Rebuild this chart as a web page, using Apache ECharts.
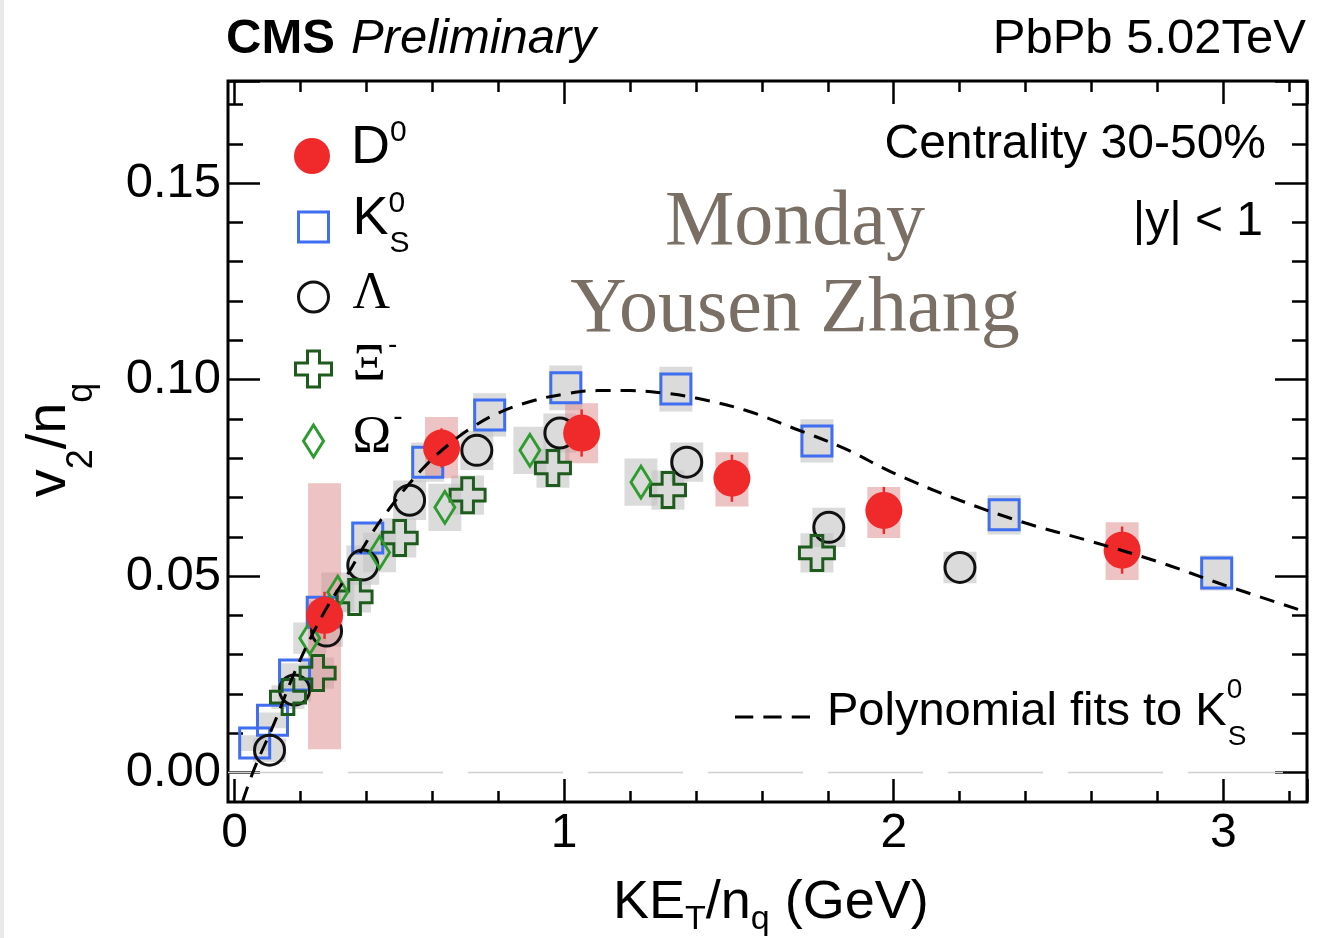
<!DOCTYPE html>
<html><head><meta charset="utf-8">
<script src="https://cdn.jsdelivr.net/npm/echarts@6/dist/echarts.min.js"></script>
<style>html,body{margin:0;padding:0;background:#fff}#c{width:1331px;height:938px}</style>
</head><body><div id="c"></div>
<script>
// ---------------- data ----------------
const xTickLabels = ['0', '1', '2', '3'];
const yTickLabels = ['0.00', '0.05', '0.10', '0.15'];

const d0X = [0.273, 0.628, 1.053, 1.509, 1.970, 2.693];
const d0Y = [0.0400, 0.0826, 0.0864, 0.0749, 0.0667, 0.0566];
const d0Stat = [0.0060, 0.0050, 0.0060, 0.0060, 0.0060, 0.0060];
const d0SysLo = [0.0059, 0.0749, 0.0787, 0.0677, 0.0597, 0.0490];
const d0SysHi = [0.0736, 0.0905, 0.0940, 0.0815, 0.0727, 0.0637];

const k0sX = [0.061, 0.115, 0.182, 0.266, 0.404, 0.586, 0.774, 1.005, 1.339, 1.767, 2.335, 2.980];
const k0sY = [0.0075, 0.0133, 0.0248, 0.0408, 0.0597, 0.0790, 0.0910, 0.0979, 0.0976, 0.0844, 0.0656, 0.0508];
const k0sSys = [0.0020, 0.0020, 0.0030, 0.0030, 0.0040, 0.0050, 0.0055, 0.0057, 0.0057, 0.0055, 0.0050, 0.0045];

const lamX = [0.106, 0.182, 0.279, 0.389, 0.531, 0.735, 0.987, 1.372, 1.803, 2.201];
const lamY = [0.0057, 0.0210, 0.0360, 0.0528, 0.0693, 0.0820, 0.0864, 0.0790, 0.0624, 0.0522];
const lamSys = [0.0030, 0.0030, 0.0040, 0.0050, 0.0050, 0.0050, 0.0050, 0.0050, 0.0050, 0.0040];

const xiX = [0.162, 0.252, 0.364, 0.501, 0.707, 0.966, 1.315, 1.767];
const xiY = [0.0192, 0.0253, 0.0447, 0.0597, 0.0706, 0.0775, 0.0719, 0.0559];
const xiSys = [0.0030, 0.0040, 0.0040, 0.0050, 0.0050, 0.0050, 0.0050, 0.0050];

const omX = [0.228, 0.313, 0.440, 0.638, 0.896, 1.233];
const omY = [0.0342, 0.0459, 0.0560, 0.0675, 0.0820, 0.0739];
const omSys = [0.0040, 0.0050, 0.0050, 0.0060, 0.0060, 0.0060];

const fitX = [0.025, 0.06, 0.12, 0.19, 0.27, 0.34, 0.41, 0.47, 0.53, 0.59, 0.65, 0.72, 0.80, 0.90, 1.00, 1.10, 1.20, 1.30, 1.40, 1.55, 1.70, 1.85, 2.00, 2.20, 2.40, 2.60, 2.80, 3.00, 3.254];
const fitY = [-0.0072, 0.0010, 0.0125, 0.0270, 0.0405, 0.0500, 0.0600, 0.0672, 0.0735, 0.0790, 0.0835, 0.0878, 0.0915, 0.0945, 0.0963, 0.0972, 0.0972, 0.0966, 0.0953, 0.0922, 0.0875, 0.0825, 0.0762, 0.0693, 0.0635, 0.0588, 0.0537, 0.0478, 0.0408];

// axis ranges
const XMIN = -0.02, XMAX = 3.254, YMIN = -0.0075, YMAX = 0.176;

// ---------------- layout / style ----------------
const FRAME = {left: 228, top: 81, right: 1307, bottom: 802};
const W = 1331, H = 938;
const pxX = (FRAME.right - FRAME.left) / (XMAX - XMIN);
const pxY = (FRAME.bottom - FRAME.top) / (YMAX - YMIN);
const x0px = FRAME.left + (0 - XMIN) * pxX;     // pixel of x = 0
const y0px = FRAME.bottom - (0 - YMIN) * pxY;   // pixel of y = 0
const BOX_W = 0.1;
const SANS = 'Liberation Sans';
const SERIF = 'Liberation Serif';

const RED = '#f02a2a', BLUE = '#3f6ff0', BLACK = '#111111', DGREEN = '#1e5c1e', LGREEN = '#2d9b2d';
const GRAY_BOX = 'rgba(195,195,195,0.6)', PINK_BOX = 'rgba(222,135,135,0.5)';
const CROSS = 'path://M12 0H24V12H36V24H24V36H12V24H0V12H12Z';
const DIAMOND = 'path://M10 0L20 16L10 32L0 16Z';
const TICK_LS = {color: '#000', width: 2.5};

const zip2 = (xs, ys) => xs.map((x, i) => [x, ys[i]]);
const sysData = (xs, ys, ss) => xs.map((x, i) => [x, ys[i] - ss[i], ys[i] + ss[i]]);

function boxRender(fill) {
  return function (params, api) {
    const x = api.value(0), lo = api.value(1), hi = api.value(2);
    const a = api.coord([x - BOX_W / 2, hi]);
    const b = api.coord([x + BOX_W / 2, lo]);
    return {type: 'rect', shape: {x: a[0], y: a[1], width: b[0] - a[0], height: b[1] - a[1]}, style: {fill: fill}};
  };
}
function barRender(params, api) {
  const x = api.value(0);
  const a = api.coord([x, api.value(1)]);
  const b = api.coord([x, api.value(2)]);
  return {type: 'line', shape: {x1: a[0], y1: a[1], x2: b[0], y2: b[1]}, style: {stroke: RED, lineWidth: 2.5}};
}
function boxSeries(data, fill) {
  return {type: 'custom', xAxisIndex: 0, yAxisIndex: 0, renderItem: boxRender(fill), data: data,
          encode: {x: 0, y: [1, 2]}, z: 1, silent: true};
}
function scatter(name, data, symbol, size, style, z) {
  return {type: 'scatter', name: name, xAxisIndex: 0, yAxisIndex: 0, data: data, symbol: symbol,
          symbolSize: size, itemStyle: Object.assign({opacity: 1}, style), z: z || 2, silent: true,
          emphasis: {disabled: true}};
}
const hollow = (c) => ({color: 'rgba(0,0,0,0)', borderColor: c, borderWidth: 3});

function tickAxis(gridIndex, pos, interval, major, minor, extra) {
  const vertical = pos === 'left' || pos === 'right';
  return Object.assign({
    gridIndex: gridIndex, type: 'value', position: pos, min: 0, max: vertical ? YMAX : XMAX, interval: interval,
    axisLine: {show: false}, splitLine: {show: false},
    axisTick: {show: true, inside: true, length: major, lineStyle: TICK_LS},
    minorTick: {show: true, splitNumber: 5, length: minor, lineStyle: TICK_LS},
    minorSplitLine: {show: false},
    axisLabel: {show: false}, silent: true
  }, extra || {});
}
const dummy = (gridIndex) => ({gridIndex: gridIndex, type: 'value', min: 0, max: 1, show: false});

const xNameRich = {
  a: {fontFamily: SANS, fontSize: 54, color: '#000', padding: [0, 0, 24, 0]},
  s: {fontFamily: SANS, fontSize: 34, color: '#000', padding: [27, 0, 17, 0]}
};
const yNameRich = {
  a: {fontFamily: SANS, fontSize: 56, color: '#000', padding: [0, 0, 24, 0]},
  s: {fontFamily: SANS, fontSize: 36, color: '#000', padding: [42, 0, 2, 0]}
};

// legend entries (one legend component per entry so each row sits exactly)
const LEG_ROWS = [156, 227, 297, 369, 441];
const legendItems = [
  {name: 'D⁰', text: '{m|D}{sp|0}', icon: 'circle', style: {color: RED, borderWidth: 0}},
  {name: 'K⁰S', text: '{m|K}{spk|0}{sb|S}', icon: 'path://M0 0M3 3H33V33H3ZM36 36', style: hollow(BLUE)},
  {name: 'Λ', text: '{r|Λ}{sm| }', icon: 'path://M0 0M3 18A15 15 0 1 1 33 18A15 15 0 1 1 3 18ZM36 36', style: hollow(BLACK)},
  {name: 'Ξ⁻', text: '{r|Ξ}{sm|-}', icon: CROSS, style: hollow(DGREEN)},
  {name: 'Ω⁻', text: '{r|Ω}{sm|-}', icon: 'path://M0 0M18 2L28 18L18 34L8 18ZM36 36', style: hollow(LGREEN)}
];
const legendRich = {
  m: {fontFamily: SANS, fontSize: 54, color: '#000', padding: [3, 0, 19, 0]},
  r: {fontFamily: SERIF, fontSize: 52, color: '#000', padding: [9, 0, 15, 0]},
  sp: {fontFamily: SANS, fontSize: 30, color: '#000', padding: [0, 0, 46, 0]},
  spk: {fontFamily: SANS, fontSize: 30, color: '#000', padding: [0, 0, 46, 0], width: 1},
  sb: {fontFamily: SANS, fontSize: 30, color: '#000', padding: [40, 0, 6, 0]},
  sm: {fontFamily: SANS, fontSize: 28, color: '#000', padding: [0, 0, 48, 2]}
};
const FIT_NAME = 'Polynomial fits to K⁰S';

const particleLegends = legendItems.map((it, i) => ({
  orient: 'vertical', left: 294, top: LEG_ROWS[i] - 38, itemWidth: 36, itemHeight: 36,
  selectedMode: false, padding: 0,
  data: [{name: it.name, icon: it.icon, itemStyle: it.style}],
  formatter: () => it.text,
  textStyle: {padding: [0, 0, 0, 16], rich: legendRich}
}));

const option = {
  animation: false,
  backgroundColor: '#ffffff',
  grid: [
    // data grid = frame
    {left: FRAME.left, top: FRAME.top, width: FRAME.right - FRAME.left, height: FRAME.bottom - FRAME.top,
     show: true, borderColor: '#000', borderWidth: 3, backgroundColor: 'rgba(0,0,0,0)', containLabel: false, outerBoundsMode: 'none'},
    // grid for the x ticks (starts at x = 0)
    {left: x0px, top: FRAME.top, width: FRAME.right - x0px, height: FRAME.bottom - FRAME.top, containLabel: false, outerBoundsMode: 'none'},
    // grid for the y ticks (starts at y = 0)
    {left: FRAME.left, top: FRAME.top, width: FRAME.right - FRAME.left, height: y0px - FRAME.top, containLabel: false, outerBoundsMode: 'none'}
  ],
  xAxis: [
    {gridIndex: 0, type: 'value', min: XMIN, max: XMAX, show: false},
    tickAxis(1, 'bottom', 1, 23, 11, {
      axisLabel: {show: true, margin: 8, fontFamily: SANS, fontSize: 48, color: '#000',
        formatter: v => { const k = Math.round(v); return Math.abs(v - k) < 1e-6 && xTickLabels[k] !== undefined ? xTickLabels[k] : ''; }},
      name: '{a|KE}{s|T}{a|/n}{s|q}{a| (GeV)}', nameLocation: 'middle', nameGap: 74,
      nameTextStyle: {rich: xNameRich}
    }),
    tickAxis(1, 'top', 1, 23, 11),
    dummy(2)
  ],
  yAxis: [
    {gridIndex: 0, type: 'value', min: YMIN, max: YMAX, show: false},
    dummy(1),
    tickAxis(2, 'left', 0.05, 32, 15, {
      axisLabel: {show: true, margin: 7, fontFamily: SANS, fontSize: 49, color: '#000',
        formatter: v => { const k = Math.round(v / 0.05); return Math.abs(v / 0.05 - k) < 1e-6 && yTickLabels[k] !== undefined ? yTickLabels[k] : ''; }}
    }),
    tickAxis(2, 'right', 0.05, 32, 15)
  ],
  legend: particleLegends.concat([
    {
      orient: 'vertical', left: 735, top: 676, itemWidth: 75, itemHeight: 4, selectedMode: false, padding: 0,
      data: [{name: FIT_NAME, icon: 'path://M0 0H18V3H0ZM28 0H46V3H28ZM56 0H74V3H56Z', itemStyle: {color: '#000', borderWidth: 0}}],
      formatter: () => '{t|Polynomial fits to K}{sp|0}{sb|S}',
      textStyle: {
        padding: [0, 0, 0, 12],
        rich: {
          t: {fontFamily: SANS, fontSize: 47, color: '#000', padding: [13, 0, 22, 0]},
          sp: {fontFamily: SANS, fontSize: 28, color: '#000', padding: [0, 0, 54, 0], width: 1},
          sb: {fontFamily: SANS, fontSize: 28, color: '#000', padding: [47, 0, 7, 0]}
        }
      }
    }
  ]),
  graphic: [
    {type: 'rect', shape: {x: 0, y: 0, width: 4, height: H}, style: {fill: '#e9e9e9'}, silent: true},
    {type: 'text', x: 62, y: 440, rotation: Math.PI / 2, silent: true, style: {
      text: '{a|v}{s|2}{a|/n}{s|q}', align: 'center', verticalAlign: 'middle', rich: yNameRich}},
    {type: 'text', x: 226, y: 39, silent: true, style: {
      text: '{b|CMS}{i|Preliminary}', verticalAlign: 'middle', align: 'left',
      rich: {b: {fontFamily: SANS, fontWeight: 'bold', fontSize: 49, fill: '#000'},
             i: {fontFamily: SANS, fontStyle: 'italic', fontSize: 49, fill: '#000', padding: [0, 0, 0, 16]}}}},
    {type: 'text', x: 1306, y: 39, silent: true, style: {text: 'PbPb 5.02TeV', align: 'right', verticalAlign: 'middle',
      fontFamily: SANS, fontSize: 49, fill: '#000'}},
    {type: 'text', x: 1266, y: 145, silent: true, style: {text: 'Centrality 30-50%', align: 'right', verticalAlign: 'middle',
      fontFamily: SANS, fontSize: 48, fill: '#000'}},
    {type: 'text', x: 1263, y: 222, silent: true, style: {text: '|y| < 1', align: 'right', verticalAlign: 'middle',
      fontFamily: SANS, fontSize: 48, fill: '#000'}},
    {type: 'text', x: 795, y: 224, silent: true, style: {text: 'Monday', align: 'center', verticalAlign: 'middle',
      fontFamily: SERIF, fontSize: 78, fill: '#7a6f64'}},
    {type: 'text', x: 795, y: 311, silent: true, style: {text: 'Yousen Zhang', align: 'center', verticalAlign: 'middle',
      fontFamily: SERIF, fontSize: 78, fill: '#7a6f64'}}
  ],
  series: [
    {type: 'line', name: 'zero', xAxisIndex: 0, yAxisIndex: 0, data: [[XMIN, 0], [XMAX, 0]], symbol: 'none',
     lineStyle: {color: '#cfcfcf', width: 1.5, type: [95, 25]}, z: 0, silent: true},
    boxSeries(sysData(k0sX, k0sY, k0sSys), GRAY_BOX),
    boxSeries(sysData(lamX, lamY, lamSys), GRAY_BOX),
    boxSeries(sysData(xiX, xiY, xiSys), GRAY_BOX),
    boxSeries(sysData(omX, omY, omSys), GRAY_BOX),
    boxSeries(d0X.map((x, i) => [x, d0SysLo[i], d0SysHi[i]]), PINK_BOX),
    scatter('K⁰S', zip2(k0sX, k0sY), 'rect', 30, hollow(BLUE)),
    scatter('Λ', zip2(lamX, lamY), 'circle', 30, hollow(BLACK)),
    scatter('Ξ⁻', zip2(xiX, xiY), CROSS, 35, hollow(DGREEN)),
    scatter('Ω⁻', zip2(omX, omY), DIAMOND, [20, 32], hollow(LGREEN)),
    scatter('D⁰', zip2(d0X, d0Y), 'circle', 37, {color: RED}, 3),
    {type: 'custom', name: 'D0 stat', xAxisIndex: 0, yAxisIndex: 0, renderItem: barRender,
     data: d0X.map((x, i) => [x, d0Y[i] - d0Stat[i], d0Y[i] + d0Stat[i]]), encode: {x: 0, y: [1, 2]}, z: 4, silent: true},
    {type: 'line', name: FIT_NAME, xAxisIndex: 0, yAxisIndex: 0, data: zip2(fitX, fitY), symbol: 'none', smooth: 0.4,
     lineStyle: {color: '#000', width: 3, type: [15, 10]}, z: 5, silent: true}
  ]
};

const chart = echarts.init(document.getElementById('c'), null, {renderer: 'canvas', width: W, height: H});
chart.setOption(option);
</script>
</body></html>
